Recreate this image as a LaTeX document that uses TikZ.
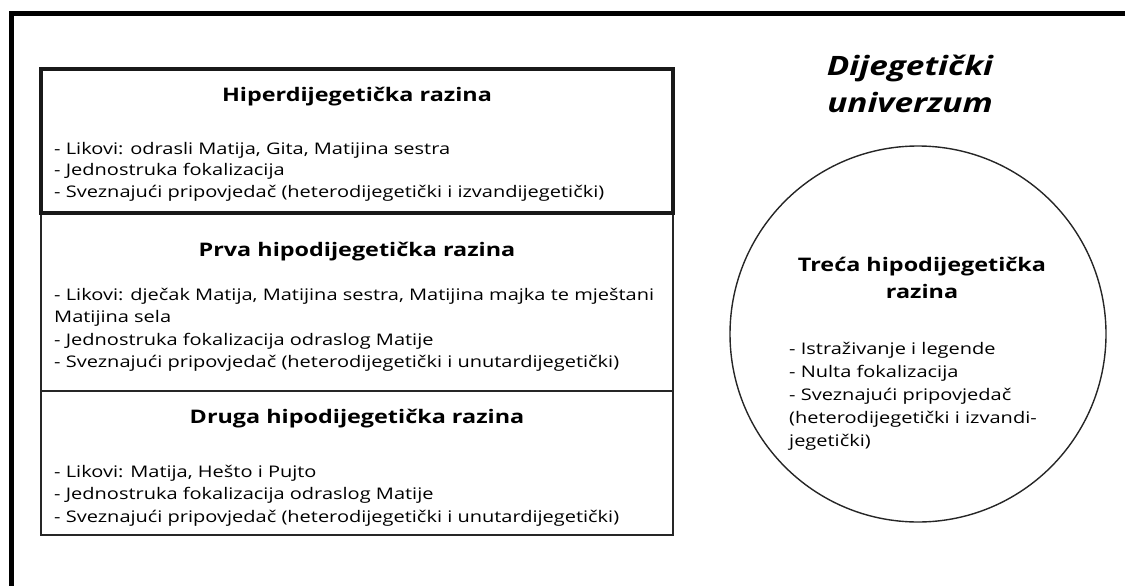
\documentclass[tikz,border=0pt]{standalone}
\usepackage{fontspec}
\setmainfont{Open Sans}[FakeStretch=1.25]
\begin{document}
\begin{tikzpicture}[x=1pt,y=-1pt,
	level/.style={draw=black!85,line width=1.4pt,minimum width=632pt,inner sep=0pt},
	hiper/.style={level,draw=black!90,line width=4.5pt},
	head/.style={font=\fontsize{18.7}{26}\selectfont\bfseries,inner sep=0pt,anchor=base},
	body/.style={font=\fontsize{16}{22}\selectfont,inner sep=0pt,anchor=base west},
	title/.style={font=\fontsize{26.7}{36}\selectfont\bfseries\itshape,inner sep=0pt,anchor=base}]
	\useasboundingbox (0,0) rectangle (1125,586);
	\begin{scope}
		\clip (0,0) rectangle (1125,586);
		\draw[line width=4.5pt] (11.5,13.5) rectangle (1140,600);
	\end{scope}
	\node[level,minimum height=178pt] (prva) at (357,302) {};
	\node[level,minimum height=144pt] (druga) at (357,463) {};
	\node[hiper,minimum height=144pt] (hiperbox) at (357,141) {};
	\node[circle,draw=black!85,line width=1.4pt,minimum size=376pt,inner sep=0pt] (treca) at (918,334) {};
	\node[title] (univ1) at (910,76) {Dijegetički};
	\node[title] (univ2) at (910,112) {univerzum};
	\node[head] (hiperT) at (357,102) {Hiperdijegetička razina};
	\foreach \s [count=\i] in {{- Likovi: odrasli Matija, Gita, Matijina sestra},{- Jednostruka fokalizacija},
		{- Sveznajući pripovjedač (heterodijegetički i izvandijegetički)}}
		\node[body] (hiper\i) at (54,{154+21.8*(\i-1)}) {\s};
	\node[head] (prvaT) at (357,256) {Prva hipodijegetička razina};
	\foreach \s [count=\i] in {{- Likovi: dječak Matija, Matijina sestra, Matijina majka te mještani},{Matijina sela},
		{- Jednostruka fokalizacija odraslog Matije},{- Sveznajući pripovjedač (heterodijegetički i unutardijegetički)}}
		\node[body] (prva\i) at (54,{300+22.6*(\i-1)}) {\s};
	\node[head] (drugaT) at (357,423) {Druga hipodijegetička razina};
	\foreach \s [count=\i] in {{- Likovi: Matija, Hešto i Pujto},{- Jednostruka fokalizacija odraslog Matije},
		{- Sveznajući pripovjedač (heterodijegetički i unutardijegetički)}}
		\node[body] (druga\i) at (54,{477+22.5*(\i-1)}) {\s};
	\node[head] (trecaT1) at (922,271) {Treća hipodijegetička};
	\node[head] (trecaT2) at (922,298) {razina};
	\foreach \s [count=\i] in {{- Istraživanje i legende},{- Nulta fokalizacija},{- Sveznajući pripovjedač},
		{(heterodijegetički i izvandi-},{jegetički)}}
		\node[body] (treca\i) at (789,{354+23*(\i-1)}) {\s};
\end{tikzpicture}
\end{document}
